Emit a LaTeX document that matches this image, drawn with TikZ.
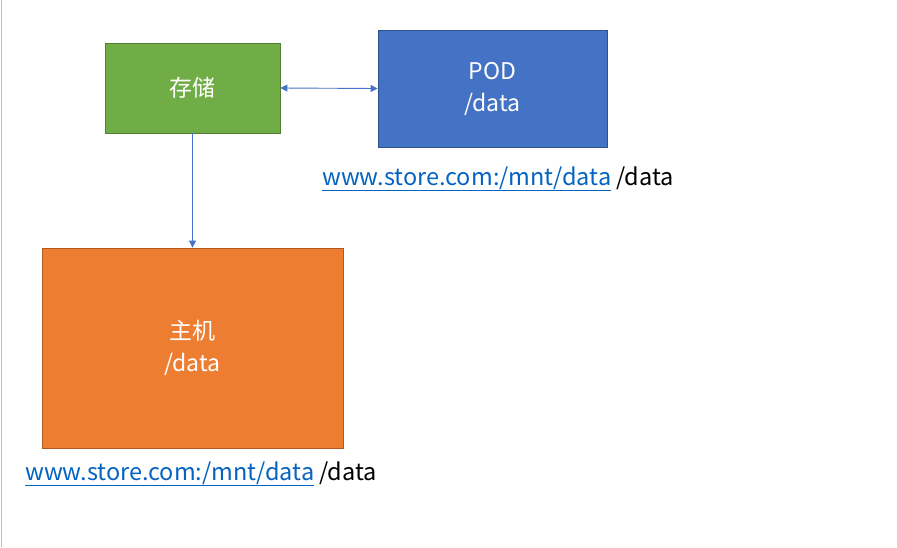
\documentclass[tikz,border=0pt]{standalone}
\usepackage{fontspec}
\setmainfont{Noto Sans CJK SC}
\usetikzlibrary{arrows.meta}
\definecolor{grn}{HTML}{70AD47}
\definecolor{grnb}{HTML}{507E32}
\definecolor{blu}{HTML}{4472C4}
\definecolor{blub}{HTML}{2F528F}
\definecolor{org}{HTML}{ED7D31}
\definecolor{orgb}{HTML}{AE5A21}
\definecolor{lnk}{HTML}{0563C1}
\tikzset{
  box/.style={draw, line width=0.8pt, inner sep=0pt, text=white, font=\fontsize{23}{32}\selectfont, align=center},
  conn/.style={draw=blu, line width=0.9pt, -{Triangle[length=7pt,width=7pt]}},
  linklbl/.style={anchor=base west, inner sep=0pt, font=\fontsize{23.5}{28}\selectfont},
}
\begin{document}
\begin{tikzpicture}[x=1pt,y=-1pt]
\useasboundingbox (0,0) rectangle (897,547);
\fill[white] (0,0) rectangle (897,547);
\draw[gray!50, line width=1pt] (1,0) -- (1,547);
\node[box, fill=grn, draw=grnb, minimum width=175pt, minimum height=90pt] (store) at (192.5,88) {存储};
\node[box, fill=blu, draw=blub, minimum width=229pt, minimum height=117pt] (pod) at (492.5,88.5) {POD\\/data};
\node[box, fill=org, draw=orgb, minimum width=301pt, minimum height=200pt] (host) at (192.5,348) {主机\\/data};
\draw[conn, {Triangle[length=7pt,width=7pt]}-{Triangle[length=7pt,width=7pt]}] (store.east) -- (pod.west);
\draw[conn] (store.south) -- (host.north);
\node[linklbl] (l1) at (322,185) {\textcolor{lnk}{\underline{www.store.com:/mnt/data}} /data};
\node[linklbl] (l2) at (25,480) {\textcolor{lnk}{\underline{www.store.com:/mnt/data}} /data};
\end{tikzpicture}
\end{document}
